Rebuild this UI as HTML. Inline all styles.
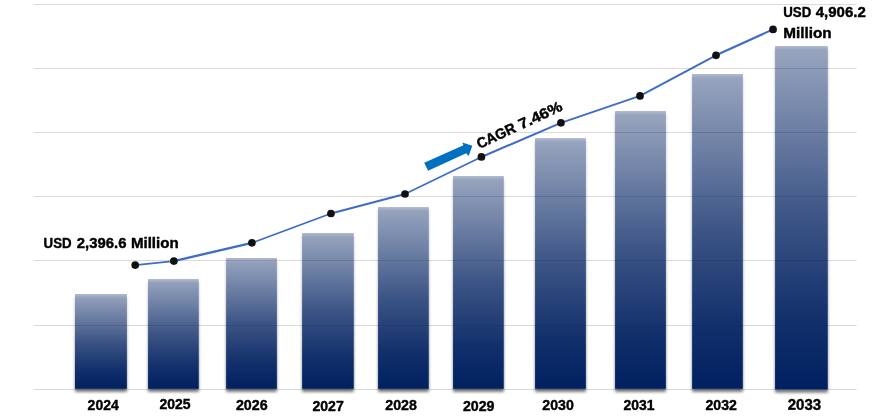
<!DOCTYPE html>
<html><head><meta charset="utf-8"><title>Market size chart</title>
<style>
html,body{margin:0;padding:0;background:#fff;}
body{width:873px;height:420px;overflow:hidden;}
svg{display:block;}
text{font-family:"Liberation Sans",sans-serif;font-weight:bold;fill:#000;stroke:#000;stroke-width:0.4px;stroke-linejoin:round;}
</style></head><body>
<svg width="873" height="420" viewBox="0 0 873 420">
<defs>
<linearGradient id="bg" x1="0" y1="0" x2="0" y2="1">
<stop offset="0" stop-color="#002060" stop-opacity="0.40"/>
<stop offset="0.5" stop-color="#002060" stop-opacity="0.765"/>
<stop offset="0.8" stop-color="#002060" stop-opacity="0.93"/>
<stop offset="1" stop-color="#002060" stop-opacity="1"/>
</linearGradient>
<linearGradient id="sg" x1="0" y1="0" x2="0" y2="1">
<stop offset="0" stop-color="#000" stop-opacity="0.40"/>
<stop offset="0.5" stop-color="#000" stop-opacity="0.765"/>
<stop offset="0.8" stop-color="#000" stop-opacity="0.93"/>
<stop offset="1" stop-color="#000" stop-opacity="1"/>
</linearGradient>
<linearGradient id="tg" x1="0" y1="0" x2="0" y2="1">
<stop offset="0" stop-color="#fff" stop-opacity="0.24"/>
<stop offset="1" stop-color="#fff" stop-opacity="0"/>
</linearGradient>
<filter id="sh" x="-5%" y="-5%" width="110%" height="112%">
<feGaussianBlur in="SourceAlpha" stdDeviation="1.7"/>
<feOffset dx="0.3" dy="2.6"/>
<feComponentTransfer><feFuncA type="linear" slope="0.55"/></feComponentTransfer>
</filter>
</defs>
<rect width="873" height="420" fill="#fff"/>

<g stroke="#d9d9d9" stroke-width="1">
<line x1="34.2" y1="4.5" x2="856.6" y2="4.5"/>
<line x1="34.2" y1="68.5" x2="856.6" y2="68.5"/>
<line x1="34.2" y1="132.5" x2="856.6" y2="132.5"/>
<line x1="34.2" y1="196.5" x2="856.6" y2="196.5"/>
<line x1="34.2" y1="260.5" x2="856.6" y2="260.5"/>
<line x1="34.2" y1="325.5" x2="856.6" y2="325.5"/>
<line x1="34.2" y1="389.5" x2="856.6" y2="389.5"/>
</g>
<clipPath id="outside"><path clip-rule="evenodd" d="M0,0H873V420H0ZM75.0,294.0H126.9V388.9H75.0ZM148.05,279.0H198.8V388.9H148.05ZM226.1,258.0H276.9V388.9H226.1ZM302.1,233.0H353.8V388.9H302.1ZM378.05,207.05H428.8V388.9H378.05ZM453.05,176.0H503.8V388.9H453.05ZM535.05,138.1H585.9V388.9H535.05ZM615.05,111.0H665.9V388.9H615.05ZM692.1,74.0H742.85V388.9H692.1ZM775.05,46.0H827.8V389.6H775.05Z"/></clipPath>
<g clip-path="url(#outside)"><g filter="url(#sh)" fill="url(#sg)">
<rect x="75.0" y="294.0" width="51.90" height="94.90"/>
<rect x="148.05" y="279.0" width="50.75" height="109.90"/>
<rect x="226.1" y="258.0" width="50.80" height="130.90"/>
<rect x="302.1" y="233.0" width="51.70" height="155.90"/>
<rect x="378.05" y="207.05" width="50.75" height="181.85"/>
<rect x="453.05" y="176.0" width="50.75" height="212.90"/>
<rect x="535.05" y="138.1" width="50.85" height="250.80"/>
<rect x="615.05" y="111.0" width="50.85" height="277.90"/>
<rect x="692.1" y="74.0" width="50.75" height="314.90"/>
<rect x="775.05" y="46.0" width="52.75" height="343.60"/>
</g></g>
<g>
<rect x="75.0" y="294.0" width="51.90" height="94.90" fill="url(#bg)"/>
<rect x="148.05" y="279.0" width="50.75" height="109.90" fill="url(#bg)"/>
<rect x="226.1" y="258.0" width="50.80" height="130.90" fill="url(#bg)"/>
<rect x="302.1" y="233.0" width="51.70" height="155.90" fill="url(#bg)"/>
<rect x="378.05" y="207.05" width="50.75" height="181.85" fill="url(#bg)"/>
<rect x="453.05" y="176.0" width="50.75" height="212.90" fill="url(#bg)"/>
<rect x="535.05" y="138.1" width="50.85" height="250.80" fill="url(#bg)"/>
<rect x="615.05" y="111.0" width="50.85" height="277.90" fill="url(#bg)"/>
<rect x="692.1" y="74.0" width="50.75" height="314.90" fill="url(#bg)"/>
<rect x="775.05" y="46.0" width="52.75" height="343.60" fill="url(#bg)"/>
<rect x="75.0" y="294.0" width="51.90" height="4" fill="url(#tg)"/>
<rect x="148.05" y="279.0" width="50.75" height="4" fill="url(#tg)"/>
<rect x="226.1" y="258.0" width="50.80" height="4" fill="url(#tg)"/>
<rect x="302.1" y="233.0" width="51.70" height="4" fill="url(#tg)"/>
<rect x="378.05" y="207.05" width="50.75" height="4" fill="url(#tg)"/>
<rect x="453.05" y="176.0" width="50.75" height="4" fill="url(#tg)"/>
<rect x="535.05" y="138.1" width="50.85" height="4" fill="url(#tg)"/>
<rect x="615.05" y="111.0" width="50.85" height="4" fill="url(#tg)"/>
<rect x="692.1" y="74.0" width="50.75" height="4" fill="url(#tg)"/>
<rect x="775.05" y="46.0" width="52.75" height="4" fill="url(#tg)"/>
</g>
<g stroke="#3f6dc6" stroke-linecap="round">
<line x1="135.2" y1="265.1" x2="173.9" y2="261.1" stroke-width="1.8"/>
<line x1="173.9" y1="261.1" x2="251.95" y2="242.86" stroke-width="2.35"/>
<line x1="251.95" y1="242.86" x2="330.95" y2="213.5" stroke-width="1.8"/>
<line x1="330.95" y1="213.5" x2="405.0" y2="194.0" stroke-width="2.2"/>
<line x1="405.0" y1="194.0" x2="481.4" y2="156.95" stroke-width="1.8"/>
<line x1="481.4" y1="156.95" x2="560.95" y2="122.86" stroke-width="2.1"/>
<line x1="560.95" y1="122.86" x2="640" y2="95.9" stroke-width="1.7"/>
<line x1="640" y1="95.9" x2="716" y2="55.3" stroke-width="2.0"/>
<line x1="716" y1="55.3" x2="773.05" y2="29.4" stroke-width="2.1"/>
</g>
<g fill="#111">
<circle cx="135.2" cy="265.1" r="3.85"/>
<circle cx="173.9" cy="261.1" r="3.85"/>
<circle cx="251.95" cy="242.86" r="3.85"/>
<circle cx="330.95" cy="213.5" r="3.85"/>
<circle cx="405.0" cy="194.0" r="3.85"/>
<circle cx="481.4" cy="156.95" r="3.85"/>
<circle cx="560.95" cy="122.86" r="3.85"/>
<circle cx="640" cy="95.9" r="3.85"/>
<circle cx="716" cy="55.3" r="3.85"/>
<circle cx="773.05" cy="29.4" r="3.85"/>
</g>
<polygon points="424.2,162.7 463.5,145.2 462.3,142.5 472.4,145.8 468.6,156 466.2,153.2 428.1,170.8" fill="#0070c0"/>
<g font-size="14.1">
<text x="87.6" y="410.0" textLength="31.2" lengthAdjust="spacingAndGlyphs">2024</text>
<text x="159.4" y="409.0" textLength="31.1" lengthAdjust="spacingAndGlyphs">2025</text>
<text x="235.9" y="409.8" textLength="31.7" lengthAdjust="spacingAndGlyphs">2026</text>
<text x="312.4" y="411.0" textLength="31.4" lengthAdjust="spacingAndGlyphs">2027</text>
<text x="385.3" y="409.7" textLength="31.6" lengthAdjust="spacingAndGlyphs">2028</text>
<text x="462.9" y="410.8" textLength="31.6" lengthAdjust="spacingAndGlyphs">2029</text>
<text x="542.3" y="409.5" textLength="31.5" lengthAdjust="spacingAndGlyphs">2030</text>
<text x="623.5" y="409.5" textLength="31.0" lengthAdjust="spacingAndGlyphs">2031</text>
<text x="705.5" y="409.7" textLength="31.4" lengthAdjust="spacingAndGlyphs">2032</text>
<text x="787.7" y="409.85" font-size="15.3" transform="rotate(0.03 788.1 409.85)" textLength="33.4" lengthAdjust="spacingAndGlyphs">2033</text>
</g>
<text y="247.6" font-size="14.3"><tspan x="43.6" textLength="28" lengthAdjust="spacingAndGlyphs">USD</tspan> <tspan x="76.8" textLength="49.6" lengthAdjust="spacingAndGlyphs">2,396.6</tspan> <tspan x="130.9" textLength="47.8" lengthAdjust="spacingAndGlyphs">Million</tspan></text>
<text y="17.4" font-size="14.3"><tspan x="783.3" textLength="28" lengthAdjust="spacingAndGlyphs">USD</tspan> <tspan x="815.7" textLength="50.1" lengthAdjust="spacingAndGlyphs">4,906.2</tspan></text>
<text x="783.2" y="37.8" font-size="14.3" textLength="48.4" lengthAdjust="spacingAndGlyphs">Million</text>
<text font-size="14.6" y="0" transform="translate(479.4,149.1) rotate(-25)"><tspan x="0" textLength="41.5" lengthAdjust="spacingAndGlyphs">CAGR</tspan> <tspan x="46.2" textLength="46.7" lengthAdjust="spacingAndGlyphs">7.46%</tspan></text>
</svg></body></html>
